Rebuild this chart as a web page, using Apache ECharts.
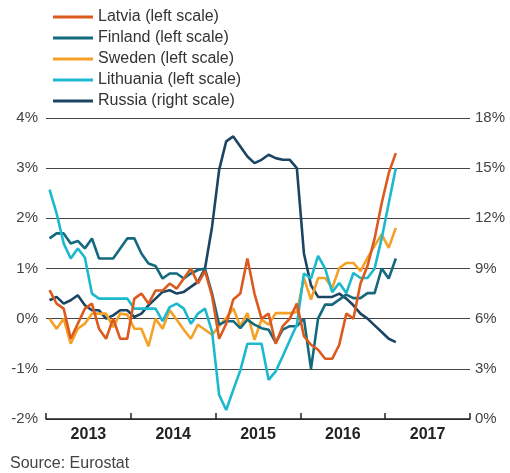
<!DOCTYPE html>
<html lang="en" style="height: 100%">
<head>
    <meta charset="UTF-8">
    <title>Inflation, Baltic states, Finland, Sweden and Russia</title>
    <script src="https://cdn.jsdelivr.net/npm/echarts@6/dist/echarts.min.js"></script>
</head>
<body style="height: 100%; margin: 0; background: #fff">
<div id="main" style="width: 510px; height: 473px"></div>
<script>
    // monthly, Jan 2013 .. Feb 2017
    var years = ['2013', '2014', '2015', '2016', '2017'];
    var latvia = [0.57, 0.3, 0.2, -0.4, -0.1, 0.2, 0.3, -0.2, -0.4, 0.0, -0.4, -0.4,
        0.4, 0.5, 0.3, 0.56, 0.56, 0.7, 0.6, 0.8, 1.0, 0.7, 0.95, 0.45,
        -0.4, -0.1, 0.38, 0.5, 1.2, 0.5, 0.0, 0.1, -0.5, -0.15, 0.0, 0.3,
        -0.35, -0.52, -0.62, -0.8, -0.8, -0.52, 0.1, 0.0, 0.7, 1.05, 1.6, 2.3,
        2.9, 3.3];
    var finland = [1.6, 1.7, 1.7, 1.5, 1.55, 1.4, 1.6, 1.2, 1.2, 1.2, 1.4, 1.6,
        1.6, 1.3, 1.1, 1.05, 0.8, 0.9, 0.9, 0.8, 0.9, 0.97, 1.0, 0.5,
        -0.12, -0.05, -0.05, -0.19, -0.02, -0.12, -0.19, -0.22, -0.48, -0.22, -0.15, -0.15,
        0.0, -1.0, 0.0, 0.28, 0.28, 0.38, 0.48, 0.41, 0.41, 0.51, 0.51, 1.0,
        0.8, 1.2];
    var sweden = [0.0, -0.2, 0.0, -0.5, -0.2, -0.1, 0.1, 0.1, 0.1, -0.17, 0.1, 0.08,
        -0.2, -0.2, -0.55, 0.0, -0.2, 0.17, -0.02, -0.22, -0.4, -0.12, -0.22, -0.32,
        -0.15, 0.01, 0.21, -0.15, 0.11, -0.42, -0.02, -0.12, 0.11, 0.11, 0.11, 0.13,
        0.81, 0.38, 0.81, 0.81, 0.61, 1.01, 1.11, 1.11, 0.95, 1.21, 1.45, 1.68,
        1.41, 1.81];
    var lithuania = [2.57, 2.1, 1.5, 1.2, 1.4, 1.22, 0.5, 0.4, 0.4, 0.4, 0.4, 0.4,
        0.2, 0.2, 0.2, 0.2, -0.05, 0.23, 0.3, 0.2, -0.1, 0.1, 0.2, -0.26,
        -1.52, -1.82, -1.42, -1.03, -0.5, -0.5, -0.5, -1.22, -1.05, -0.75, -0.43, -0.12,
        0.9, 0.8, 1.25, 1.0, 0.53, 0.71, 0.51, 0.91, 0.81, 0.81, 1.0, 1.6,
        2.3, 3.0];
    var russia = [7.1, 7.3, 6.9, 7.1, 7.4, 6.8, 6.5, 6.5, 6.0, 6.2, 6.5, 6.5,
        6.1, 6.3, 6.8, 7.2, 7.6, 7.7, 7.5, 7.6, 7.9, 8.2, 9.0, 11.5,
        14.9, 16.6, 16.9, 16.3, 15.7, 15.3, 15.5, 15.8, 15.6, 15.5, 15.5, 15.0,
        9.9, 8.0, 7.3, 7.3, 7.3, 7.5, 7.2, 6.8, 6.3, 6.0, 5.6, 5.2,
        4.8, 4.6];

    function monthly(arr) {
        return arr.map(function (v, i) { return [i + 0.5, v]; });
    }

    var font = 'Liberation Sans, Arial, sans-serif';

    function line(name, data, color, yIdx) {
        return {
            name: name,
            type: 'line',
            yAxisIndex: yIdx,
            xAxisIndex: 0,
            showSymbol: false,
            symbol: 'none',
            lineStyle: {width: 2.6, color: color},
            itemStyle: {color: color},
            data: monthly(data)
        };
    }

    var myoption = {
        backgroundColor: '#fff',
        animation: false,
        textStyle: {fontFamily: font},
        legend: {
            orient: 'vertical',
            left: 48,
            top: 4,
            itemWidth: 40,
            itemHeight: 3,
            itemGap: 5,
            icon: 'rect',
            textStyle: {fontSize: 16, color: '#333', fontFamily: font},
            data: ['Latvia (left scale)', 'Finland (left scale)', 'Sweden (left scale)',
                'Lithuania (left scale)', 'Russia (right scale)']
        },
        grid: {left: 46, right: 40, top: 118, bottom: 54},
        xAxis: [{
            type: 'value',
            min: 0,
            max: 60,
            interval: 12,
            axisLine: {show: true, onZero: false, lineStyle: {color: '#222', width: 1.5}},
            axisTick: {show: true, inside: true, length: 6, lineStyle: {color: '#222', width: 1.5}},
            axisLabel: {show: false},
            splitLine: {show: false}
        }, {
            type: 'category',
            position: 'bottom',
            boundaryGap: true,
            data: years,
            axisLine: {show: false, onZero: false},
            axisTick: {show: false},
            axisLabel: {fontSize: 16, fontWeight: 'bold', color: '#222', margin: 8, fontFamily: font}
        }],
        yAxis: [{
            type: 'value',
            min: -2,
            max: 4,
            interval: 1,
            axisLine: {show: false},
            axisTick: {show: false},
            axisLabel: {formatter: '{value}%', fontSize: 15, color: '#444', margin: 8, fontFamily: font},
            splitLine: {lineStyle: {color: '#444', width: 1}}
        }, {
            type: 'value',
            min: 0,
            max: 18,
            interval: 3,
            axisLine: {show: false},
            axisTick: {show: false},
            axisLabel: {formatter: '{value}%', fontSize: 15, color: '#444', margin: 5, fontFamily: font},
            splitLine: {show: false}
        }],
        graphic: [{
            type: 'text',
            left: 10,
            top: 456,
            style: {text: 'Source: Eurostat', fontSize: 16, fill: '#444', fontFamily: font}
        }],
        series: [
            line('Russia (right scale)', russia, '#1c4563', 1),
            line('Sweden (left scale)', sweden, '#f4a125', 0),
            line('Finland (left scale)', finland, '#13697e', 0),
            line('Lithuania (left scale)', lithuania, '#1cb9ce', 0),
            line('Latvia (left scale)', latvia, '#dd5a1f', 0)
        ]
    };
    var myChart = echarts.init(document.getElementById('main'));
    myChart.setOption(myoption);
</script>
</body>
</html>
